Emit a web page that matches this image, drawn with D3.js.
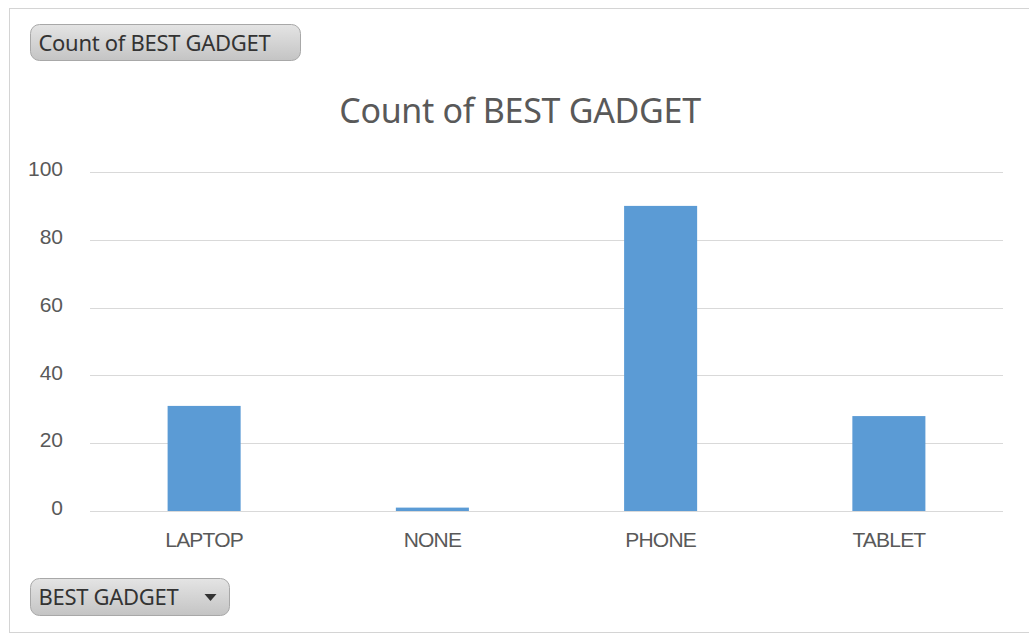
<!DOCTYPE html>
<html>
<head>
<meta charset="utf-8">
<script src="https://cdn.jsdelivr.net/npm/d3@7"></script>
<style>
  body { margin: 0; background: #fff; }
  svg { display: block; font-family: "Noto Sans", "Open Sans", sans-serif; }
</style>
</head>
<body>
<svg width="1029" height="638"></svg>
<script>
// данные графика
const categories = ["LAPTOP", "NONE", "PHONE", "TABLET"];
const counts = [31, 1, 90, 28];
const yTicks = [0, 20, 40, 60, 80, 100];
const titleText = "Count of BEST GADGET";
const fieldButton = "BEST GADGET";

const svg = d3.select("svg");

const area = { left: 90, right: 1003, top: 172, bottom: 511 };

// рамка диаграммы
svg.append("rect")
  .attr("x", 9.5).attr("y", 8.5)
  .attr("width", 1040).attr("height", 624)
  .attr("fill", "#fff")
  .attr("stroke", "#d4d4d4");

// шкалы
const scX = d3.scaleBand()
  .domain(categories)
  .range([area.left, area.right])
  .paddingInner(0.68)
  .paddingOuter(0.34);

const scY = d3.scaleLinear()
  .domain([0, 100])
  .range([area.bottom, area.top]);

// сетка
svg.append("g")
  .selectAll("line")
  .data(yTicks)
  .enter()
  .append("line")
  .attr("x1", area.left)
  .attr("x2", area.right)
  .attr("y1", d => Math.round(scY(d)) + 0.5)
  .attr("y2", d => Math.round(scY(d)) + 0.5)
  .attr("stroke", "#d9d9d9")
  .attr("stroke-width", 1);

// подписи оси Y
const axisY = d3.axisLeft(scY).tickValues(yTicks).tickSize(0).tickPadding(0);
const gy = svg.append("g")
  .attr("transform", `translate(63, -3)`)
  .call(axisY);
gy.select(".domain").remove();
gy.selectAll("text")
  .attr("fill", "#595959")
  .style("font-size", "21px");

// подписи оси X
const axisX = d3.axisBottom(scX).tickSize(0).tickPadding(0);
const gx = svg.append("g")
  .attr("transform", `translate(0, ${area.bottom + 21})`)
  .call(axisX);
gx.select(".domain").remove();
gx.selectAll("text")
  .attr("fill", "#595959")
  .style("font-size", "21px")
  .style("letter-spacing", "-0.8px");

// столбцы
svg.append("g")
  .selectAll("rect")
  .data(counts)
  .enter()
  .append("rect")
  .attr("x", (d, i) => scX(categories[i]))
  .attr("width", scX.bandwidth())
  .attr("y", d => scY(d))
  .attr("height", d => scY(0) - scY(d))
  .attr("fill", "#5b9bd5");

// заголовок
svg.append("text")
  .attr("x", 520)
  .attr("y", 123)
  .attr("text-anchor", "middle")
  .attr("fill", "#595959")
  .style("font-size", "34px")
  .style("letter-spacing", "-0.3px")
  .text(titleText);

// кнопки полей сводной диаграммы
const grad = svg.append("defs").append("linearGradient")
  .attr("id", "btn").attr("x1", 0).attr("y1", 0).attr("x2", 0).attr("y2", 1);
grad.append("stop").attr("offset", "0%").attr("stop-color", "#e4e4e4");
grad.append("stop").attr("offset", "100%").attr("stop-color", "#c4c4c4");

function button(x, y, w, h, label, arrow) {
  const g = svg.append("g").attr("transform", `translate(${x}, ${y})`);
  g.append("rect")
    .attr("width", w).attr("height", h)
    .attr("rx", 9)
    .attr("fill", "url(#btn)")
    .attr("stroke", "#a8a8a8");
  g.append("text")
    .attr("x", 8).attr("y", h / 2 + 8)
    .attr("fill", "#333")
    .style("font-size", "22px")
    .style("letter-spacing", "-0.3px")
    .text(label);
  if (arrow) {
    g.append("path")
      .attr("d", `M${w - 25},${h / 2 - 3} l12,0 l-6,7 z`)
      .attr("fill", "#333");
  }
}

button(30.5, 24.5, 270, 36, "Count of BEST GADGET", false);
button(30.5, 578.5, 199, 37, fieldButton, true);
</script>
</body>
</html>
